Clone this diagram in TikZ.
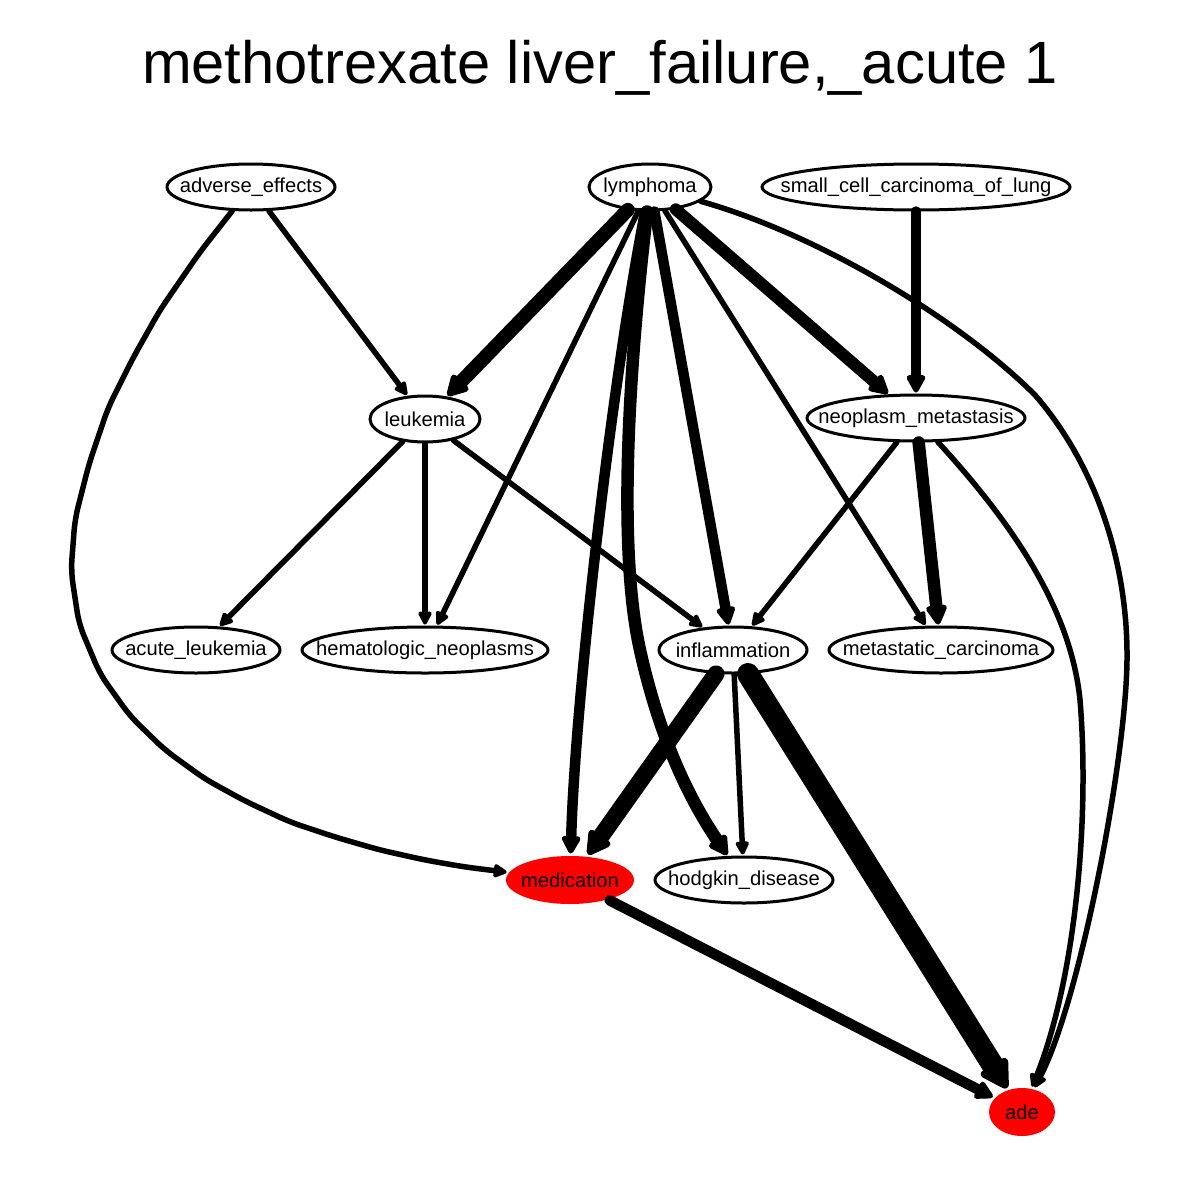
\documentclass[tikz,border=0pt]{standalone}
\usepackage{fontspec}
\setmainfont{Liberation Sans}
\usetikzlibrary{arrows.meta,shapes.geometric}
% zero-width label box, so the ellipse keeps its given size
\newcommand\zw[1]{\makebox[0pt]{#1}}
\tikzset{
  x=1pt, y=-1pt,
  nd/.style={ellipse, draw=black, line width=3pt, inner sep=0pt,
             font=\fontsize{20.2}{24}\selectfont},
  hot/.style={nd, draw=none, fill=red},
  ed/.style={line width=#1, line cap=round, line join=round, shorten >=1pt,
             -{Triangle[length=10pt 1, width=8pt 1.2, round]}},
  ed/.default=5.5pt
}
\begin{document}
\begin{tikzpicture}
\useasboundingbox (0,0) rectangle (1200,1200);
\fill[white] (0,0) rectangle (1200,1200);

\node[font=\fontsize{59.7}{70}\selectfont, anchor=base] (title) at (600,83) {methotrexate liver\_failure,\_acute 1};

% nodes
\node[nd, minimum width=168, minimum height=46] (adv) at (251,187) {\zw{adverse\_effects}};
\node[nd, minimum width=122, minimum height=46] (lym) at (650,187) {\zw{lymphoma}};
\node[nd, minimum width=308, minimum height=46] (scc) at (916,187) {\zw{small\_cell\_carcinoma\_of\_lung}};
\node[nd, minimum width=110, minimum height=46] (leu) at (425,419) {\zw{leukemia}};
\node[nd, minimum width=218, minimum height=46] (neo) at (916,418) {\zw{neoplasm\_metastasis}};
\node[nd, minimum width=168, minimum height=46] (acl) at (196,650) {\zw{acute\_leukemia}};
\node[nd, minimum width=246, minimum height=46] (hem) at (425,650) {\zw{hematologic\_neoplasms}};
\node[nd, minimum width=148, minimum height=46] (inf) at (733,650) {\zw{inflammation}};
\node[nd, minimum width=224, minimum height=46] (met) at (941,650) {\zw{metastatic\_carcinoma}};
\node[hot, minimum width=128, minimum height=48] (med) at (570,880) {\zw{medication}};
\node[nd, minimum width=178, minimum height=46] (hod) at (744,880) {\zw{hodgkin\_disease}};
\node[hot, minimum width=66, minimum height=48] (ade) at (1022,1112) {\zw{ade}};

% edges from adverse_effects
\draw[ed] (adv) -- (leu);
\draw[ed, rounded corners=12pt] (adv) -- (200,252) -- (160,310) -- (133,358)
      -- (108,408) -- (89,464) -- (75,519) -- (71,571) -- (79,624)
      -- (100,674) -- (130,716) -- (165,750) -- (205,779) -- (245,801)
      -- (290,822) -- (335,837) -- (380,850) -- (425,860) -- (465,867) -- (med);

% edges from lymphoma
\draw[ed=14pt] (lym) -- (leu);
\draw[ed] (lym) -- (hem);
\draw[ed=10.5pt] (lym) .. controls (612,380) and (575,700) .. (med);
\draw[ed=12.5pt] (lym) .. controls (625,400) and (620,560) .. (640,650)
                    .. controls (660,740) and (690,800) .. (hod);
\draw[ed=10.5pt] (lym) -- (inf);
\draw[ed] (lym) -- (met);
\draw[ed=12pt] (lym) -- (neo);
\draw[ed] (lym) .. controls (820,235) and (960,320) .. (1035,395)
               .. controls (1100,470) and (1128,570) .. (1127,660)
               .. controls (1126,760) and (1080,1000) .. (ade);

% edge from small_cell_carcinoma_of_lung
\draw[ed=10.5pt] (scc) -- (neo);

% edges from leukemia
\draw[ed] (leu) -- (acl);
\draw[ed] (leu) -- (hem);
\draw[ed] (leu) -- (inf);

% edges from neoplasm_metastasis
\draw[ed] (neo) -- (inf);
\draw[ed=12.5pt] (neo) -- (met);
\draw[ed] (neo) .. controls (1000,510) and (1070,600) .. (1080,700)
               .. controls (1090,820) and (1075,980) .. (ade);

% edges from inflammation
\draw[ed=17pt] (inf) -- (med);
\draw[ed] (inf) -- (hod);
\draw[ed=22pt] (inf) -- (ade);

% edge from medication
\draw[ed=10.5pt] (med) -- (ade);
\end{tikzpicture}
\end{document}
